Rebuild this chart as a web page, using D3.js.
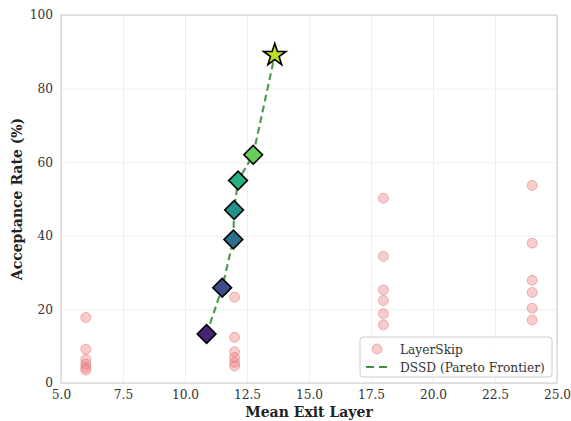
<!DOCTYPE html>
<html>
<head>
<meta charset="utf-8">
<script src="https://cdn.jsdelivr.net/npm/d3@7"></script>
<style>
  body { margin: 0; background: #fff; }
  text { font-family: "DejaVu Serif", serif; }
</style>
</head>
<body>
<script>
const W = 571;
const H = 421;
const margin = { left: 61, top: 15, right: 14, bottom: 38 };

// LayerSkip points (exit layer, acceptance %)
const skipX = [6, 6, 6, 6, 6, 6,
               12, 12, 12, 12, 12, 12,
               18, 18, 18, 18, 18, 18,
               24, 24, 24, 24, 24, 24];
const skipY = [17.8, 9.2, 6.4, 5.1, 4.2, 3.5,
               23.3, 12.4, 8.5, 6.9, 5.6, 4.6,
               50.2, 34.4, 25.3, 22.4, 18.8, 15.8,
               53.7, 38.0, 27.9, 24.6, 20.3, 17.1];

// DSSD pareto frontier
const dssdX = [10.87, 11.5, 11.95, 11.98, 12.14, 12.75, 13.62];
const dssdY = [13.3, 25.9, 39.0, 47.0, 55.0, 62.0, 89.1];

const xTicks = [5, 7.5, 10, 12.5, 15, 17.5, 20, 22.5, 25];
const yTicks = [0, 20, 40, 60, 80, 100];

const svg = d3.select("body")
    .append("svg")
    .attr("width", W)
    .attr("height", H);

const x = d3.scaleLinear().domain([5, 25]).range([margin.left, W - margin.right]);
const y = d3.scaleLinear().domain([0, 100]).range([H - margin.bottom, margin.top]);

// grid
svg.append("g")
    .attr("transform", `translate(0,${margin.top})`)
    .call(d3.axisBottom(x).tickValues(xTicks).tickSize(H - margin.bottom - margin.top).tickFormat(""))
    .call(g => g.select(".domain").remove())
    .call(g => g.selectAll("line").attr("stroke", "#ebebeb").attr("stroke-width", 0.8));

svg.append("g")
    .attr("transform", `translate(${margin.left},0)`)
    .call(d3.axisRight(y).tickValues(yTicks).tickSize(W - margin.right - margin.left).tickFormat(""))
    .call(g => g.select(".domain").remove())
    .call(g => g.selectAll("line").attr("stroke", "#ebebeb").attr("stroke-width", 0.8));

// tick labels
const xAxis = svg.append("g")
    .attr("transform", `translate(0,${H - margin.bottom})`)
    .call(d3.axisBottom(x).tickValues(xTicks).tickSize(0).tickPadding(7).tickFormat(d3.format(".1f")));
xAxis.select(".domain").remove();
xAxis.selectAll("text").attr("fill", "#333").style("font-size", "12.2px").style("font-family", "DejaVu Serif");

const yAxis = svg.append("g")
    .attr("transform", `translate(${margin.left},0)`)
    .call(d3.axisLeft(y).tickValues(yTicks).tickSize(0).tickPadding(8));
yAxis.select(".domain").remove();
yAxis.selectAll("text").attr("fill", "#333").style("font-size", "12.2px").style("font-family", "DejaVu Serif");

// frame
svg.append("rect")
    .attr("x", margin.left)
    .attr("y", margin.top)
    .attr("width", W - margin.left - margin.right)
    .attr("height", H - margin.top - margin.bottom)
    .attr("fill", "none")
    .attr("stroke", "#cccccc")
    .attr("stroke-width", 1);

// LayerSkip scatter
svg.append("g")
    .selectAll("circle")
    .data(skipX.map((d, i) => [d, skipY[i]]))
    .join("circle")
    .attr("cx", d => x(d[0]))
    .attr("cy", d => y(d[1]))
    .attr("r", 5)
    .attr("fill", "rgba(240,128,128,0.4)")
    .attr("stroke", "rgba(205,92,92,0.4)")
    .attr("stroke-width", 1);

// DSSD line
const pts = dssdX.map((d, i) => [d, dssdY[i]]);
svg.append("path")
    .datum(pts)
    .attr("d", d3.line().x(d => x(d[0])).y(d => y(d[1])))
    .attr("fill", "none")
    .attr("stroke", "#3c913c")
    .attr("stroke-opacity", 0.9)
    .attr("stroke-width", 2.2)
    .attr("stroke-dasharray", "7,4");

const colors = d3.range(7).map(i => d3.interpolateViridis(0.1 + i * 0.8 / 6));

const diamond = d3.symbol().type(d3.symbolSquare).size(175);
const star = d3.symbol().type(d3.symbolStar).size(155);

svg.append("g")
    .selectAll("path")
    .data(pts)
    .join("path")
    .attr("transform", (d, i) => `translate(${x(d[0])},${y(d[1])})` + (i < pts.length - 1 ? " rotate(45)" : ""))
    .attr("d", (d, i) => i < pts.length - 1 ? diamond() : star())
    .attr("fill", (d, i) => colors[i])
    .attr("stroke", "#000")
    .attr("stroke-width", 1.6)
    .attr("stroke-linejoin", "miter");

// axis titles
svg.append("text")
    .attr("x", (margin.left + W - margin.right) / 2)
    .attr("y", 417)
    .attr("text-anchor", "middle")
    .style("font-size", "14px")
    .style("font-weight", "bold")
    .attr("fill", "#222")
    .text("Mean Exit Layer");

svg.append("text")
    .attr("transform", `translate(22,${(margin.top + H - margin.bottom) / 2}) rotate(-90)`)
    .attr("text-anchor", "middle")
    .style("font-size", "14px")
    .style("font-weight", "bold")
    .attr("fill", "#222")
    .text("Acceptance Rate (%)");

// legend
const lg = svg.append("g").attr("transform", "translate(360,337)");
lg.append("rect")
    .attr("width", 192)
    .attr("height", 40)
    .attr("rx", 3)
    .attr("fill", "rgba(255,255,255,0.85)")
    .attr("stroke", "#cccccc");
lg.append("circle")
    .attr("cx", 17)
    .attr("cy", 12)
    .attr("r", 5)
    .attr("fill", "rgba(240,128,128,0.4)")
    .attr("stroke", "rgba(205,92,92,0.4)");
lg.append("text")
    .attr("x", 40)
    .attr("y", 16.5)
    .style("font-size", "12.2px")
    .attr("fill", "#333")
    .text("LayerSkip");
lg.append("line")
    .attr("x1", 6).attr("x2", 29)
    .attr("y1", 30).attr("y2", 30)
    .attr("stroke", "#3c913c")
    .attr("stroke-width", 2.2)
    .attr("stroke-dasharray", "8,5");
lg.append("text")
    .attr("x", 40)
    .attr("y", 34.5)
    .style("font-size", "12.2px")
    .attr("fill", "#333")
    .text("DSSD (Pareto Frontier)");
</script>
</body>
</html>
